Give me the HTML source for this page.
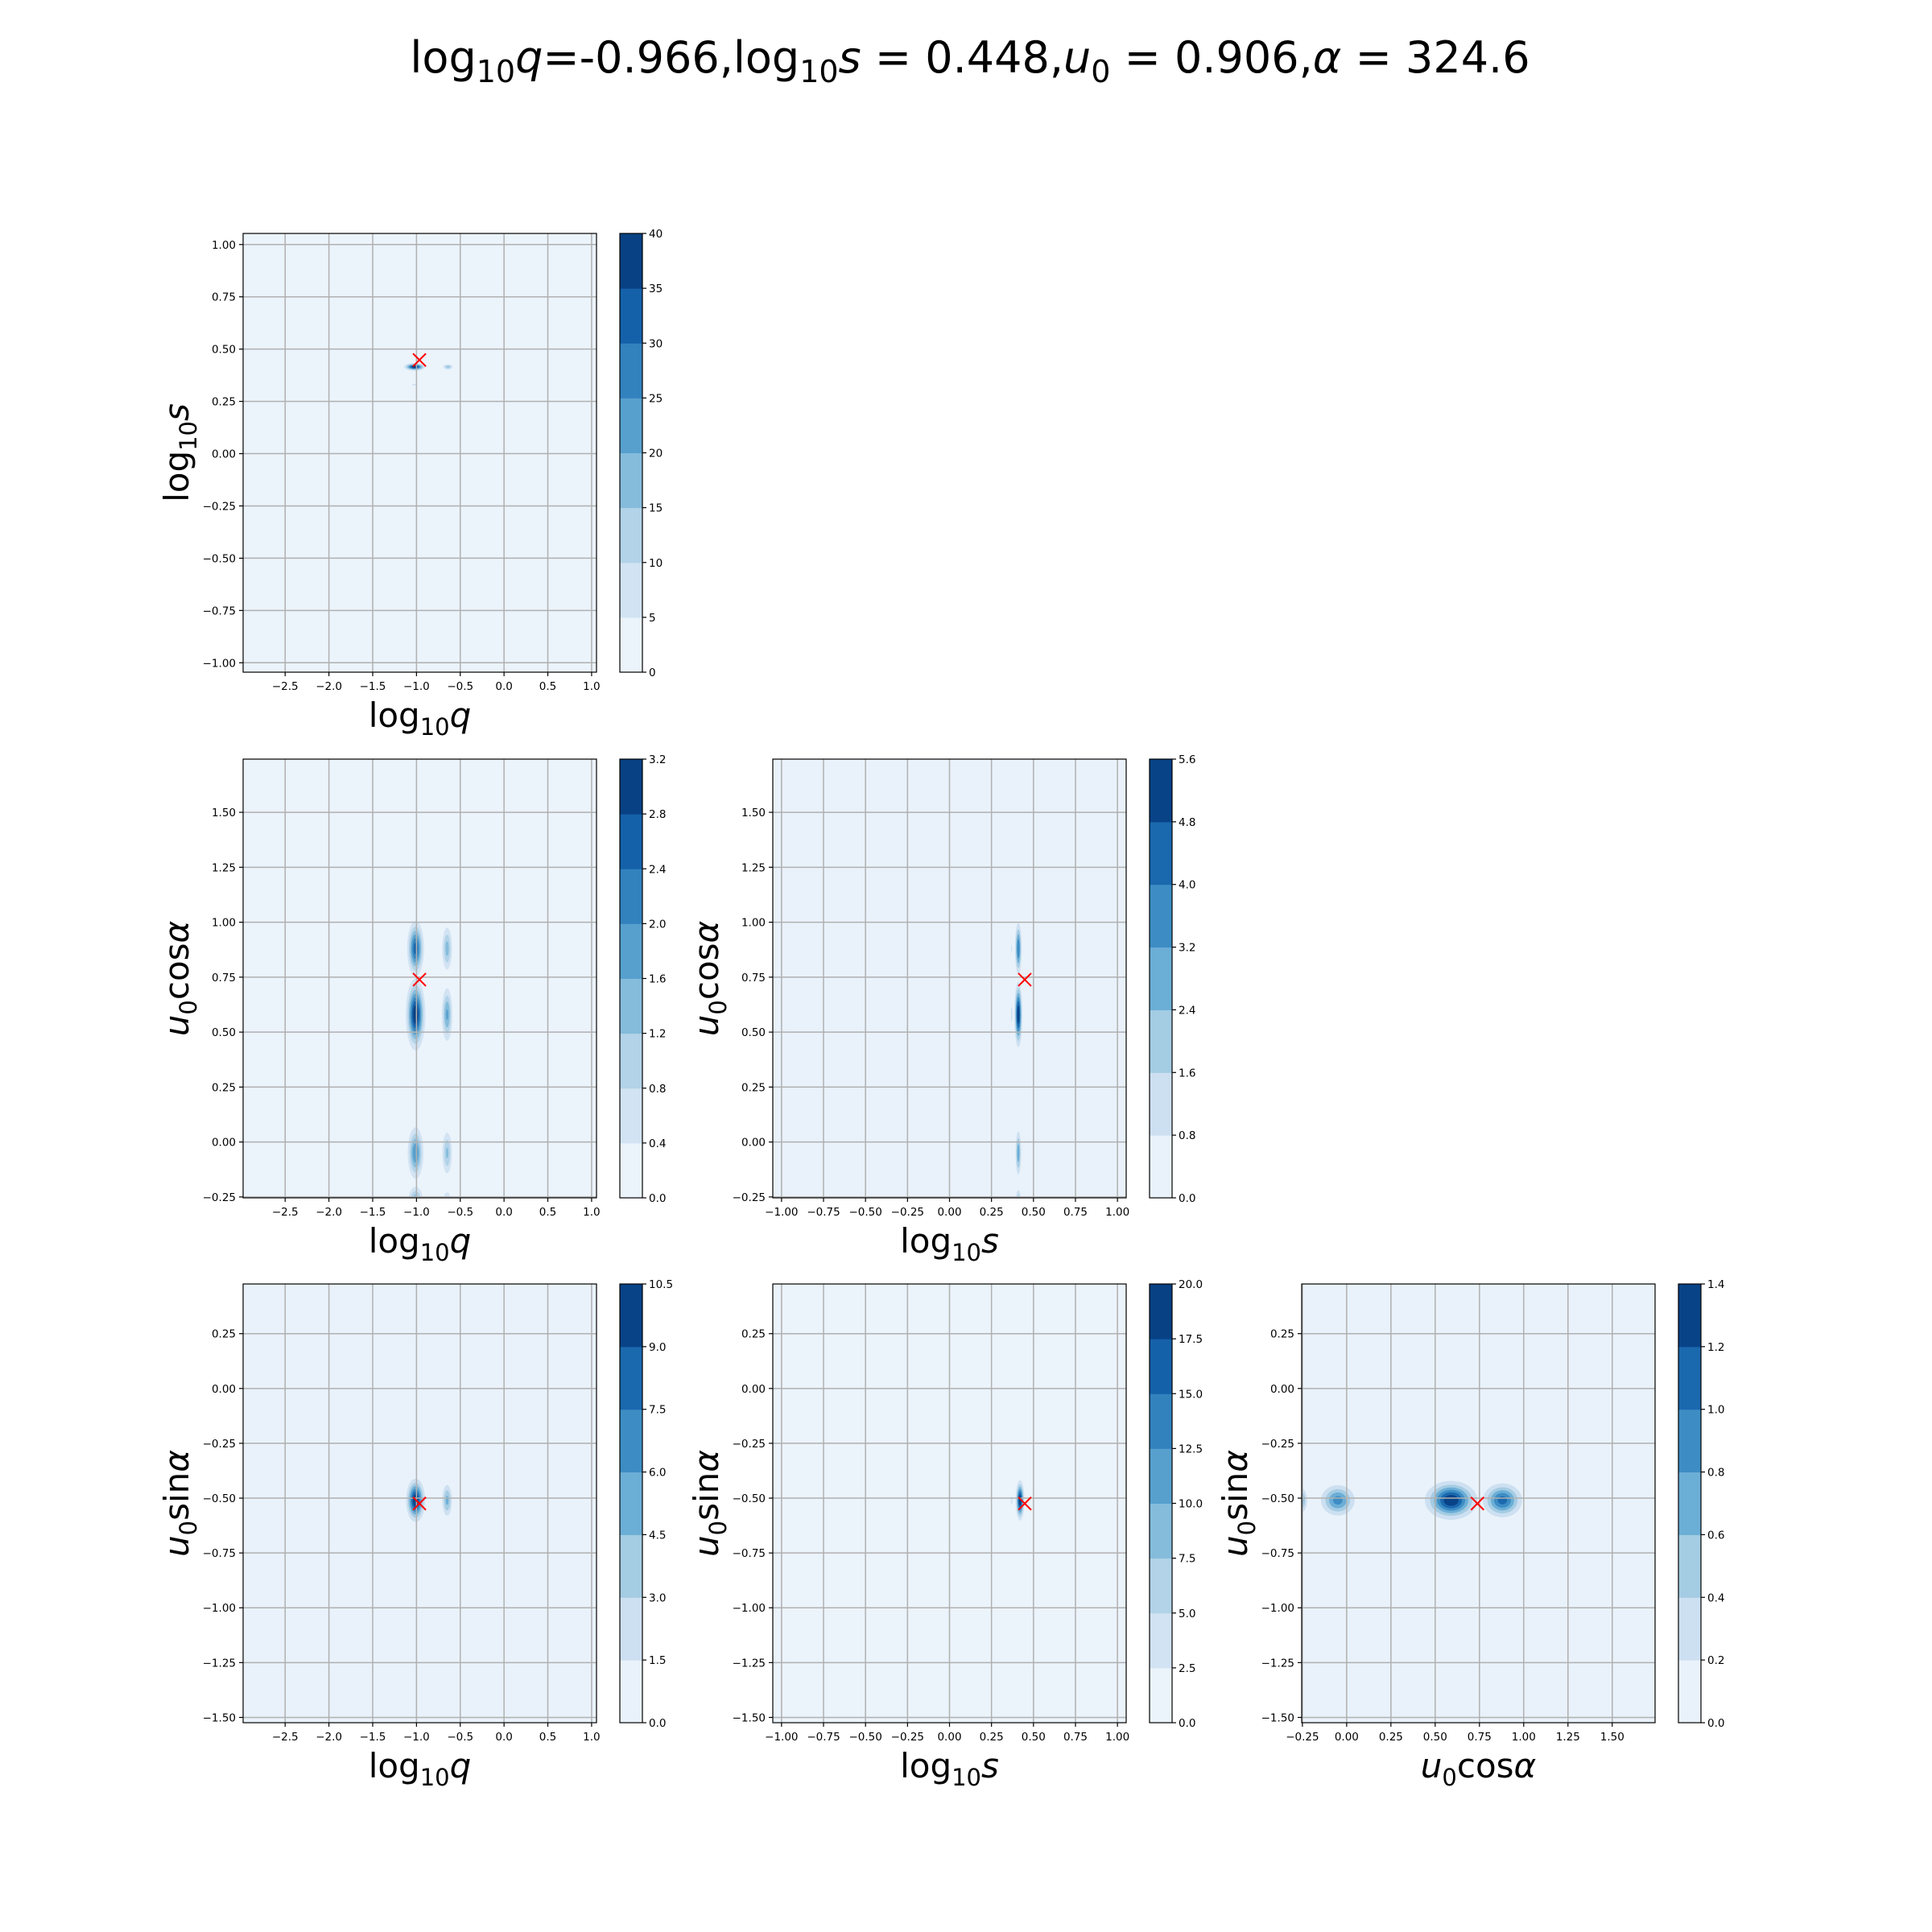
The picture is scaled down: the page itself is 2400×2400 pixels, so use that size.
<!DOCTYPE html>
<html><head><meta charset="utf-8">
<style>
html,body{margin:0;padding:0;background:#fff;}
svg{display:block;font-family:"DejaVu Sans","Liberation Sans",sans-serif;}
</style></head>
<body>
<svg id="fig" width="2400" height="2400" viewBox="0 0 2400 2400" xmlns="http://www.w3.org/2000/svg">
<text x="1205" y="90" font-size="54" text-anchor="middle">log<tspan font-size="38" dy="12">10</tspan><tspan dy="-12" font-style="italic">q</tspan>=-0.966,log<tspan font-size="38" dy="12">10</tspan><tspan dy="-12" font-style="italic">s</tspan> = 0.448,<tspan font-style="italic">u</tspan><tspan font-size="38" dy="12">0</tspan><tspan dy="-12"> = 0.906,</tspan><tspan font-style="italic">α</tspan> = 324.6</text>
</svg>
<script>
// ---- data ----
const truthQ = -0.966, truthS = 0.448, truthCos = 0.7386, truthSin = -0.5246;
const rangeQ = [-2.98, 1.056];
const rangeS = [-1.052, 1.052];
const rangeSy = [-1.045, 1.053];
const rangeCos = [-0.254, 1.742];
const rangeSin = [-1.524, 0.4765];
const ticksQ = [-2.5,-2.0,-1.5,-1.0,-0.5,0.0,0.5,1.0];
const ticksS = [-1.0,-0.75,-0.5,-0.25,0.0,0.25,0.5,0.75,1.0];
const ticksCos = [-0.25,0.0,0.25,0.5,0.75,1.0,1.25,1.5];
const ticksSin = [-1.5,-1.25,-1.0,-0.75,-0.5,-0.25,0.0,0.25];
const levels1 = [0,5,10,15,20,25,30,35,40];
const levels2 = [0,0.4,0.8,1.2,1.6,2.0,2.4,2.8,3.2];
const levels3 = [0,0.8,1.6,2.4,3.2,4.0,4.8,5.6];
const levels4 = [0,1.5,3.0,4.5,6.0,7.5,9.0,10.5];
const levels5 = [0,2.5,5.0,7.5,10.0,12.5,15.0,17.5,20.0];
const levels6 = [0,0.2,0.4,0.6,0.8,1.0,1.2,1.4];
// density blobs: [cx, cy, peak, sigmaX, sigmaY]
const blobs1 = [[-1.02,0.415,40,0.06,0.009],[-0.64,0.415,16,0.035,0.008],[-1.02,0.33,6,0.05,0.007]];
const blobs2 = [[-1.01,0.58,3.2,0.055,0.08],[-1.01,0.88,2.6,0.05,0.065],[-1.01,-0.05,2.0,0.05,0.065],[-1.01,-0.27,1.6,0.05,0.04],[-0.65,0.88,1.4,0.035,0.06],[-0.65,0.58,1.7,0.035,0.07],[-0.65,-0.05,1.3,0.035,0.06],[-0.65,-0.27,1.0,0.03,0.03]];
const blobs3 = [[0.41,0.58,5.6,0.012,0.075],[0.41,0.88,4.0,0.011,0.065],[0.41,-0.05,3.0,0.01,0.06],[0.41,-0.26,2.0,0.01,0.03],[0.37,0.58,1.0,0.006,0.05],[0.37,0.88,0.9,0.005,0.04]];
const blobs4 = [[-1.01,-0.51,10.5,0.055,0.05],[-0.65,-0.51,5.0,0.035,0.045]];
const blobs5 = [[0.42,-0.51,20,0.013,0.045],[0.37,-0.51,3.0,0.008,0.03]];
const blobs6 = [[0.59,-0.51,1.4,0.075,0.045],[0.88,-0.51,1.1,0.06,0.042],[-0.05,-0.51,0.9,0.055,0.04],[-0.26,-0.51,0.8,0.022,0.035]];

const NS='http://www.w3.org/2000/svg';
const svg=document.getElementById('fig');
function el(tag,attrs,parent){const e=document.createElementNS(NS,tag);for(const k in attrs)e.setAttribute(k,attrs[k]);(parent||svg).appendChild(e);return e;}
const stops=[[0,[247,251,255]],[0.125,[222,235,247]],[0.25,[198,219,239]],[0.375,[158,202,225]],[0.5,[107,174,214]],[0.625,[66,146,198]],[0.75,[33,113,181]],[0.875,[8,81,156]],[1,[8,48,107]]];
function blues(t){for(let i=1;i<stops.length;i++){if(t<=stops[i][0]){const a=stops[i-1],b=stops[i];const f=(t-a[0])/(b[0]-a[0]);const c=a[1].map((v,j)=>Math.round(v+(b[1][j]-v)*f));return `rgb(${c[0]},${c[1]},${c[2]})`;}}return 'rgb(8,48,107)';}
function fmt(v,d){let s=v.toFixed(d);if(s.startsWith('-'))s='\u2212'+s.slice(1);return s;}
const W=439,H=545;
const colX=[302,960,1617], rowY=[290,943,1595];
function mathLabel(g,x,y,parts,rot){
  const t=el('text',{x:x,y:y,'font-size':42,'text-anchor':'middle'},g);
  if(rot)t.setAttribute('transform',`rotate(-90 ${x} ${y})`);
  let shift=0;
  parts.forEach(p=>{const ts=el('tspan',{},t);ts.textContent=p[0];
    if(p[1]==='sub'){ts.setAttribute('font-size','29');ts.setAttribute('dy',10-shift);shift=10;}
    else{ts.setAttribute('dy',-shift);shift=0;if(p[1]==='it')ts.setAttribute('font-style','italic');}
  });
  return t;
}
const LQ=[['log',''],['10','sub'],['q','it']];
const LS=[['log',''],['10','sub'],['s','it']];
const LC=[['u','it'],['0','sub'],['cos',''],['α','it']];
const LN=[['u','it'],['0','sub'],['sin',''],['α','it']];

function panel(id,col,row,xr,yr,xt,yt,xd,yd,blobs,levels,tx,ty,xl,yl){
  const X=colX[col],Y=rowY[row];
  const g=el('g',{},svg);
  
  
  const sx=v=>X+(v-xr[0])/(xr[1]-xr[0])*W;
  const sy=v=>Y+H-(v-yr[0])/(yr[1]-yr[0])*H;
  const n=levels.length-1;
  const col0=blues(0.5/n);
  const bg=el('rect',{x:X,y:Y,width:W,height:H,fill:col0},g);
  
  
  const cp=el('clipPath',{id:'clip'+id},g);el('rect',{x:X,y:Y,width:W,height:H},cp);
  const cg=el('g',{'clip-path':`url(#clip${id})`},g);
  blobs.forEach((b,bi)=>{
    for(let k=1;k<n;k++){
      const L=levels[k];if(b[2]<=L)break;
      const r=Math.sqrt(2*Math.log(b[2]/L));
      const e=el('ellipse',{cx:sx(b[0]),cy:sy(b[1]),rx:Math.abs(sx(b[0]+b[3]*r)-sx(b[0])),ry:Math.abs(sy(b[1]+b[4]*r)-sy(b[1])),fill:blues((k+0.5)/n)},cg);
      
      
    }
  });
  xt.forEach(v=>{el('line',{x1:sx(v),x2:sx(v),y1:Y,y2:Y+H,stroke:'#b0b0b0','stroke-width':1.5},cg);});
  yt.forEach(v=>{el('line',{x1:X,x2:X+W,y1:sy(v),y2:sy(v),stroke:'#b0b0b0','stroke-width':1.5},cg);});
  const m=el('g',{stroke:'#ff0000','stroke-width':2},g);
  
  
  const mx=sx(tx),my=sy(ty),s=8;
  el('line',{x1:mx-s,y1:my-s,x2:mx+s,y2:my+s},m);el('line',{x1:mx-s,y1:my+s,x2:mx+s,y2:my-s},m);
  el('rect',{x:X,y:Y,width:W,height:H,fill:'none',stroke:'#000','stroke-width':1.2},g);
  xt.forEach(v=>{const x=sx(v);el('line',{x1:x,x2:x,y1:Y+H,y2:Y+H+5,stroke:'#000','stroke-width':1.2},g);
    const t=el('text',{x:x,y:Y+H+22,'font-size':13.5,'text-anchor':'middle'},g);t.textContent=fmt(v,xd);
    });
  yt.forEach(v=>{const y=sy(v);el('line',{x1:X,x2:X-5,y1:y,y2:y,stroke:'#000','stroke-width':1.2},g);
    const t=el('text',{x:X-9,y:y+5,'font-size':13.5,'text-anchor':'end'},g);t.textContent=fmt(v,yd);
    });
  const xlab=mathLabel(g,X+W/2,Y+H+68,xl,false);
  
  const ylab=mathLabel(g,X-68,Y+H/2,yl,true);
  
  const CX=X+468,CW=28;
  const cb=el('g',{},g);
  
  
  const lo=levels[0],hi=levels[n];
  const cy=v=>Y+H-(v-lo)/(hi-lo)*H;
  for(let k=0;k<n;k++){el('rect',{x:CX,y:cy(levels[k+1]),width:CW,height:cy(levels[k])-cy(levels[k+1])+0.5,fill:blues((k+0.5)/n)},cb);}
  el('rect',{x:CX,y:Y,width:CW,height:H,fill:'none',stroke:'#000','stroke-width':1.2},cb);
  const cd=(levels[1]%1===0)?0:1;
  levels.forEach(v=>{const y=cy(v);el('line',{x1:CX+CW,x2:CX+CW+5,y1:y,y2:y,stroke:'#000','stroke-width':1.2},cb);
    const t=el('text',{x:CX+CW+8,y:y+5,'font-size':13.5},cb);t.textContent=fmt(v,cd);
    });
}
panel('q-s',0,0,rangeQ,rangeSy,ticksQ,ticksS,1,2,blobs1,levels1,truthQ,truthS,LQ,LS);
panel('q-cos',0,1,rangeQ,rangeCos,ticksQ,ticksCos,1,2,blobs2,levels2,truthQ,truthCos,LQ,LC);
panel('s-cos',1,1,rangeS,rangeCos,ticksS,ticksCos,2,2,blobs3,levels3,truthS,truthCos,LS,LC);
panel('q-sin',0,2,rangeQ,rangeSin,ticksQ,ticksSin,1,2,blobs4,levels4,truthQ,truthSin,LQ,LN);
panel('s-sin',1,2,rangeS,rangeSin,ticksS,ticksSin,2,2,blobs5,levels5,truthS,truthSin,LS,LN);
panel('cos-sin',2,2,rangeCos,rangeSin,ticksCos,ticksSin,2,2,blobs6,levels6,truthCos,truthSin,LC,LN);
</script>
</body></html>
